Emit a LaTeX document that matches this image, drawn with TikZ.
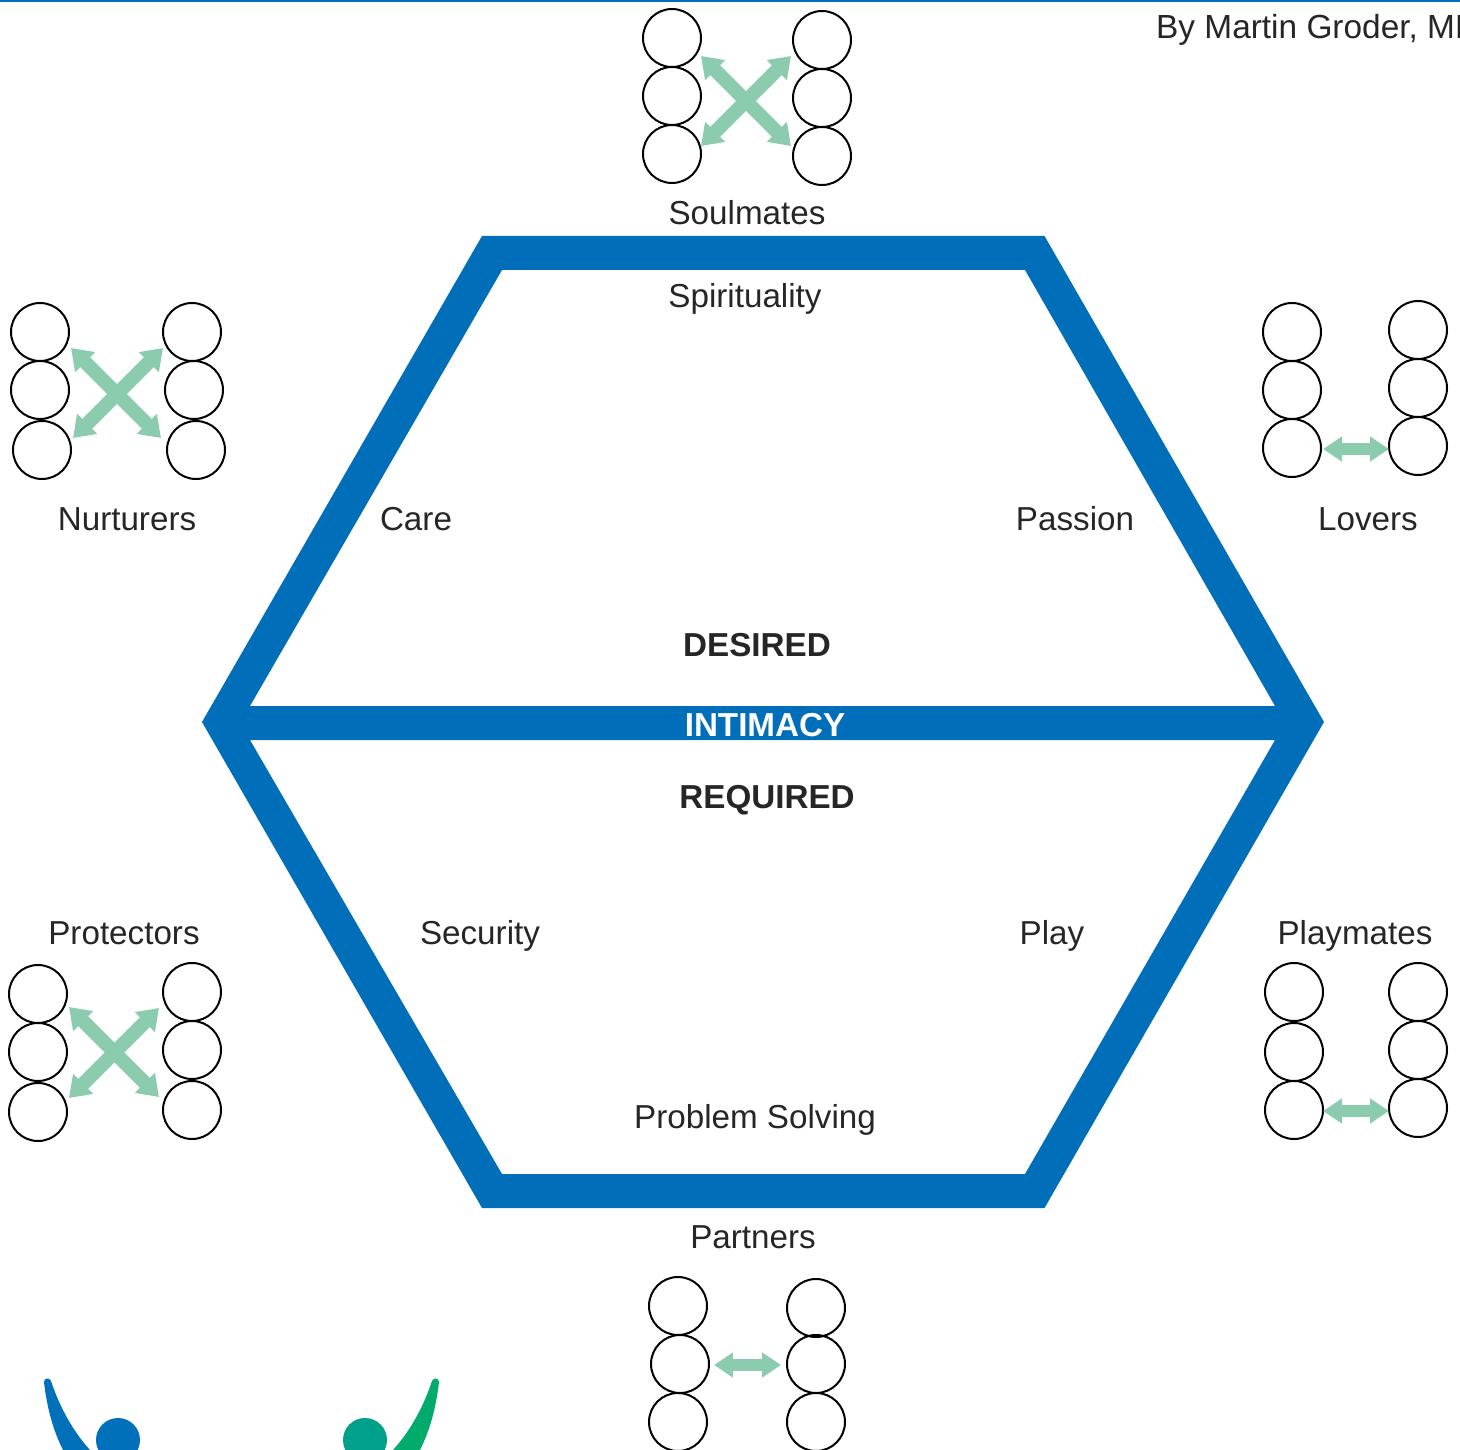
\documentclass[tikz,border=0pt]{standalone}
\usepackage{fontspec}
\setmainfont{Liberation Sans}
\usetikzlibrary{arrows.meta}
\definecolor{hexblue}{HTML}{006EB9}
\definecolor{mint}{HTML}{8CCCAE}
\definecolor{ink}{HTML}{262626}
\definecolor{logoblue}{HTML}{0070BB}
\definecolor{logoteal}{HTML}{00A08A}
\definecolor{logogreen}{HTML}{00AB6B}
\tikzset{
  person/.style={circle,draw=black,line width=2pt,minimum size=58pt,inner sep=0pt},
  lbl/.style={anchor=base,text=ink,inner sep=0pt,font=\fontsize{33.2}{40}\selectfont},
  boldlbl/.style={lbl,font=\fontsize{33.2}{40}\selectfont\bfseries},
  link/.style={draw=mint,line width=12pt,{Triangle[length=19pt,width=24pt]}-{Triangle[length=19pt,width=24pt]}},
  crosslink/.style={link,line width=14pt,{Triangle[length=20pt,width=27pt]}-{Triangle[length=20pt,width=27pt]}},
}
\begin{document}
\begin{tikzpicture}[x=1pt,y=-1pt]
\useasboundingbox (0,0) rectangle (1460,1450);
\fill[hexblue] (0,0) rectangle (1460,2);
% hexagon frame
\fill[hexblue,even odd rule]
  (482,236) -- (1044.5,236) -- (1324,722) -- (1044.5,1208) -- (482,1208) -- (202,722) -- cycle
  (502,270) -- (1025,270) -- (1275,706) -- (250,706) -- cycle
  (250,740) -- (1275,740) -- (1025,1174) -- (502,1174) -- cycle;
% circles
\foreach \n/\x/\y in {
  sa/672/38,sb/672/96,sc/672/154,sd/822/40,se/822/98,sf/822/156,
  na/40/332,nb/40/390,nc/42/450,nd/192/332,ne/194/390,nf/196/450,
  la/1292/332,lb/1292/390,lc/1292/448,ld/1418/330,le/1418/388,lf/1418/446,
  ra/38/994,rb/38/1052,rc/38/1112,rd/192/992,re/192/1050,rf/192/1110,
  ma/1294/992,mb/1294/1052,mc/1294/1110,md/1418/992,me/1418/1050,mf/1418/1108,
  pa/678/1306,pb/680/1364,pc/678/1422,pd/816/1308,pe/816/1364,pf/816/1422}
  {\node[person] (\n) at (\x,\y) {};}
% connector ends
\coordinate (s1) at (701,56); \coordinate (s2) at (791,146);
\coordinate (s3) at (791,56); \coordinate (s4) at (701,146);
\coordinate (n1) at (71,348); \coordinate (n2) at (161,438);
\coordinate (n3) at (163,348); \coordinate (n4) at (73,438);
\coordinate (r1) at (69,1007); \coordinate (r2) at (159,1097);
\coordinate (r3) at (159,1008); \coordinate (r4) at (69,1098);
\coordinate (l1) at (1323,449); \coordinate (l2) at (1389,449);
\coordinate (m1) at (1323,1111); \coordinate (m2) at (1389,1111);
\coordinate (p1) at (714,1365); \coordinate (p2) at (781,1365);
\draw[crosslink] (s1) -- (s2); \draw[crosslink] (s3) -- (s4);
\draw[crosslink] (n1) -- (n2); \draw[crosslink] (n3) -- (n4);
\draw[crosslink] (r1) -- (r2); \draw[crosslink] (r3) -- (r4);
\draw[link] (l1) -- (l2);
\draw[link] (m1) -- (m2);
\draw[link] (p1) -- (p2);
% labels
\node[lbl,anchor=base west,font=\fontsize{33.4}{40}\selectfont] (author) at (1156,38.5) {By Martin Groder, MD};
\node[lbl] (t1) at (747,225) {Soulmates};
\node[lbl] (t2) at (745,308) {Spirituality};
\node[lbl] (t3) at (127,530) {Nurturers};
\node[lbl] (t4) at (416,530) {Care};
\node[lbl] (t5) at (1075,530) {Passion};
\node[lbl] (t6) at (1368,530) {Lovers};
\node[boldlbl] (t7) at (757,656) {DESIRED};
\node[boldlbl,text=white] (t8) at (765,736) {INTIMACY};
\node[boldlbl] (t9) at (767,808) {REQUIRED};
\node[lbl] (t10) at (124,944) {Protectors};
\node[lbl] (t11) at (480,944) {Security};
\node[lbl] (t12) at (1052,944) {Play};
\node[lbl] (t13) at (1355,944) {Playmates};
\node[lbl] (t14) at (755,1128) {Problem Solving};
\node[lbl] (t15) at (753,1248) {Partners};
% logo fragments
\fill[logoblue] (44,1382) .. controls (44,1378) and (49,1377) .. (51,1381)
  .. controls (58,1402) and (70,1428) .. (90,1450) -- (63,1450)
  .. controls (53,1430) and (47,1408) .. (44,1382) -- cycle;
\fill[logoblue] (118,1440) circle[radius=22];
\fill[logogreen] (439,1382) .. controls (439,1378) and (434,1377) .. (432,1381)
  .. controls (425,1402) and (413,1428) .. (393,1450) -- (420,1450)
  .. controls (430,1430) and (436,1408) .. (439,1382) -- cycle;
\fill[logoteal] (365,1440) circle[radius=22];
\end{tikzpicture}
\end{document}
